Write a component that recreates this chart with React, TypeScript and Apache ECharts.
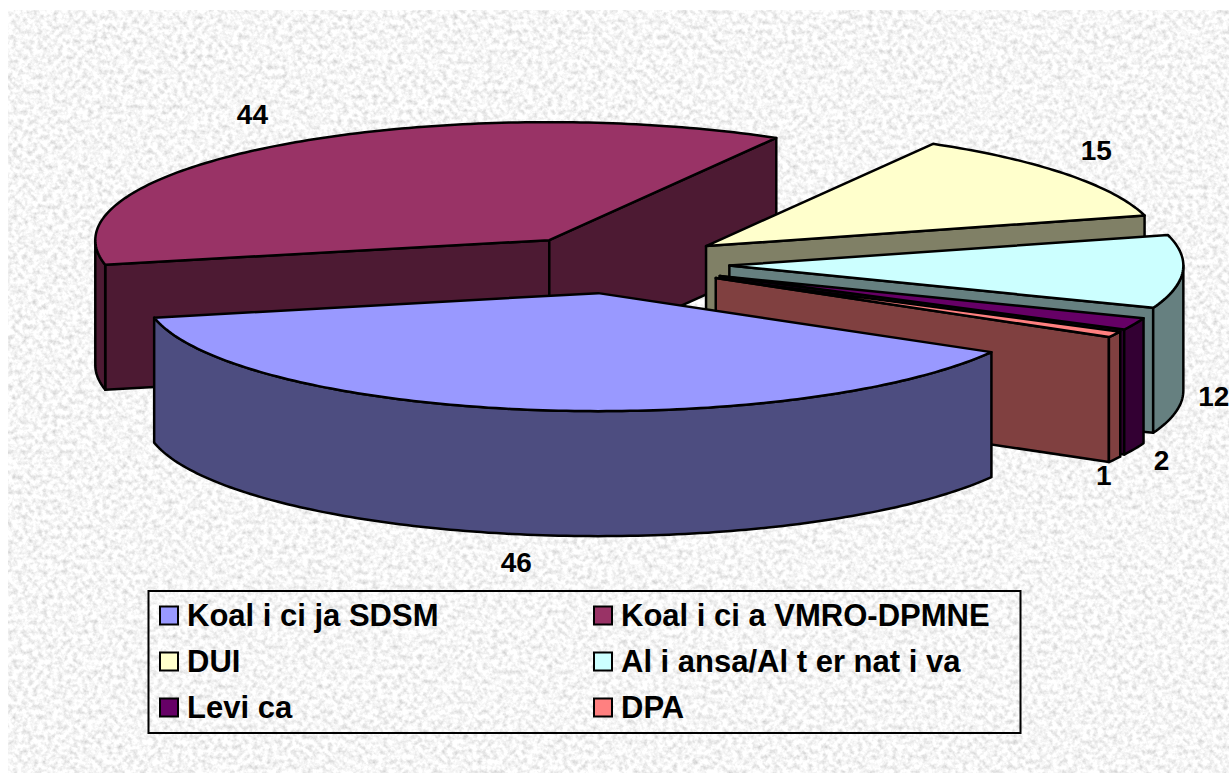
import React, { useEffect, useRef } from "react";
import * as echarts from "echarts";

const categories = ["Koal i ci ja SDSM", "Koal i ci a VMRO-DPMNE", "DUI", "Al i ansa/Al t er nat i va", "Levi ca", "DPA"];
const seatValues = [46, 44, 15, 12, 2, 1];
const topColors = ["#9999ff", "#993366", "#ffffcc", "#ccffff", "#660066", "#ff8080"];
const sideColors = ["#4d4d80", "#4d1a33", "#808066", "#668080", "#330033", "#804040"];
const paintOrder = [1, 2, 3, 4, 5, 0];
const labelDx = [-11, -30, 30, 31, 27, -11];
const labelDy = [153, -30, -24, 125, 137, 141];
const leftLegend = [categories[0], categories[2], categories[4]];
const rightLegend = [categories[1], categories[3], categories[5]];

const CX = 616, CY = 264, RX = 454, RY = 118, DEPTH = 125, EXPLODE = 0.25, START = 30;
const total = seatValues.reduce((s, v) => s + v, 0);
const rad = (d: number) => (d * Math.PI) / 180;

function sliceAngles(i: number) {
  let a = START;
  for (let k = 0; k < i; k++) a += (seatValues[k] / total) * 360;
  return [a, a + (seatValues[i] / total) * 360];
}

function renderSlice(i: number) {
  return (_p: any, api: any) => {
    const value = api.value(0);
    const [t0, t1] = sliceAngles(i);
    const mid = (t0 + t1) / 2;
    const ax = CX + EXPLODE * RX * Math.cos(rad(mid));
    const ay = CY + EXPLODE * RY * Math.sin(rad(mid));
    const rim = (t: number): number[] => [ax + RX * Math.cos(rad(t)), ay + RY * Math.sin(rad(t))];
    const stroke = { stroke: "#000", lineWidth: 2.5, lineJoin: "round" };
    const children: any[] = [];
    const side = (points: number[][]) =>
      children.push({ type: "polygon", shape: { points }, style: { fill: sideColors[i], ...stroke } });
    const cut = (t: number) => {
      const p = rim(t);
      side([[ax, ay], p, [p[0], p[1] + DEPTH], [ax, ay + DEPTH]]);
    };
    if (Math.cos(rad(t0)) < 0) cut(t0);
    if (Math.cos(rad(t1)) > 0) cut(t1);
    // outer wall: only the part of the rim that faces the viewer
    const ranges = [[0, 180], [360, 540]];
    for (const [lo, hi] of ranges) {
      const from = Math.max(t0, lo), to = Math.min(t1, hi);
      if (to > from) {
        const upper: number[][] = [];
        for (let t = from; t < to; t += 1) upper.push(rim(t));
        upper.push(rim(to));
        const lower = upper.map((p) => [p[0], p[1] + DEPTH]).reverse();
        side([...upper, ...lower]);
      }
    }
    const top: number[][] = [[ax, ay]];
    for (let t = t0; t < t1; t += 1) top.push(rim(t));
    top.push(rim(t1));
    children.push({ type: "polygon", shape: { points: top }, style: { fill: topColors[i], ...stroke } });
    const m = rim(mid);
    children.push({
      type: "text",
      x: m[0] + labelDx[i],
      y: m[1] + labelDy[i],
      style: {
        text: String(value),
        fill: "#000",
        font: 'bold 28px "Liberation Sans", Arial, sans-serif',
        align: "center",
        verticalAlign: "middle",
      },
    });
    return { type: "group", children };
  };
}

const noise = `<svg xmlns='http://www.w3.org/2000/svg' width='1221' height='763'><filter id='n' x='0' y='0' width='100%' height='100%'><feTurbulence type='fractalNoise' baseFrequency='0.2' numOctaves='3' seed='7'/><feGaussianBlur stdDeviation='0.7'/><feColorMatrix values='0.7 0 0 0 0.57  0.7 0 0 0 0.57  0.7 0 0 0 0.57  0 0 0 0 1'/></filter><rect width='1221' height='763' filter='url(#n)'/></svg>`;

export default function App() {
  const ref = useRef<HTMLDivElement>(null);
  useEffect(() => {
    const chart = echarts.init(ref.current!, undefined, { renderer: "svg" });
    const legendBase = {
      orient: "vertical",
      top: 600,
      icon: "rect",
      itemWidth: 18,
      itemHeight: 18,
      itemGap: 15,
      selectedMode: false,
      padding: 0,
      inactiveBorderWidth: 2,
      itemStyle: { borderColor: "#000", borderWidth: 2 },
      textStyle: {
        color: "#000",
        fontFamily: '"Liberation Sans", Arial, sans-serif',
        fontWeight: "bold",
        fontSize: 31,
        lineHeight: 28,
        padding: [0, 0, 0, 4],
      },
    };
    chart.setOption({
      animation: false,
      backgroundColor: "transparent",
      legend: [
        { ...legendBase, left: 159, data: leftLegend },
        { ...legendBase, left: 593, data: rightLegend },
      ],
      graphic: [
        {
          type: "rect",
          shape: { x: 148.5, y: 591, width: 872, height: 142 },
          style: { fill: "none", stroke: "#000", lineWidth: 2 },
          silent: true,
        },
      ],
      series: paintOrder.map((i) => ({
        type: "custom",
        name: categories[i],
        coordinateSystem: "none",
        silent: true,
        itemStyle: { color: topColors[i] },
        data: [[seatValues[i]]],
        renderItem: renderSlice(i),
      })),
    });
    return () => chart.dispose();
  }, []);
  return (
    <div style={{ position: "fixed", left: 0, top: 0, width: 1229, height: 773, background: "#fff", overflow: "hidden" }}>
      <div
        style={{
          position: "absolute",
          left: 8,
          top: 10,
          width: 1221,
          height: 763,
          backgroundImage: `url("data:image/svg+xml,${encodeURIComponent(noise)}")`,
        }}
      />
      <div ref={ref} style={{ position: "absolute", left: 0, top: 0, width: 1229, height: 773 }} />
    </div>
  );
}
